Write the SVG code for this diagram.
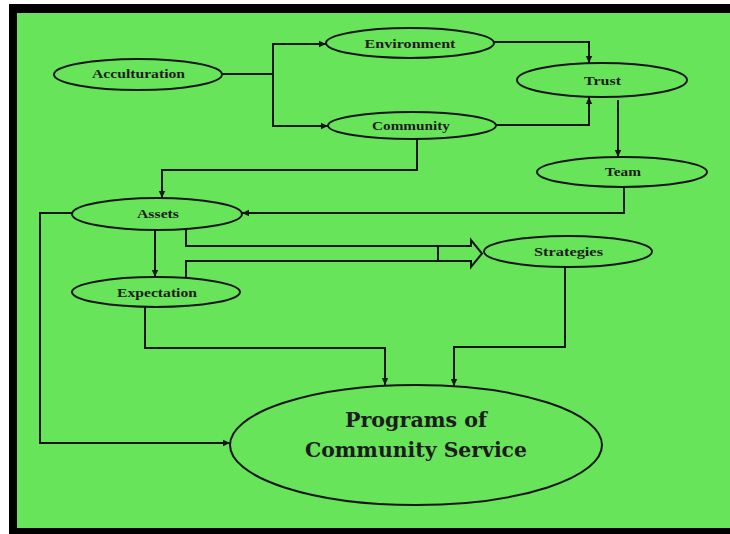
<svg xmlns="http://www.w3.org/2000/svg" width="730" height="534" viewBox="0 0 730 534">
<defs>
<style>
.node ellipse{fill:#67E45A;stroke:#161616;stroke-width:2}
.lbl{font-family:"Liberation Serif","DejaVu Serif",serif;font-weight:bold;font-size:12px;fill:#1c1c1c;text-anchor:middle}
.big{font-family:"DejaVu Serif","Liberation Serif",serif;font-weight:bold;font-size:21px;fill:#1c1c1c;text-anchor:middle}
.conn path{fill:none;stroke:#161616;stroke-width:2}
</style>
<marker id="ah" markerUnits="userSpaceOnUse" markerWidth="8" markerHeight="8" viewBox="0 0 8 8" refX="7" refY="4" orient="auto">
<path d="M0,0.8 L7,4 L0,7.2 Z" fill="#161616"/>
</marker>
</defs>
<rect x="0" y="0" width="730" height="534" fill="#ffffff"/>
<rect x="9" y="4" width="721" height="530" fill="#000000"/>
<rect x="17" y="13" width="713" height="515" fill="#67E45A"/>

<g id="connectors" class="conn">
<path d="M222,74 H273"/>
<path d="M273,74 V44 H326" marker-end="url(#ah)"/>
<path d="M273,74 V126 H328" marker-end="url(#ah)"/>
<path d="M494,42 H589 V63" marker-end="url(#ah)"/>
<path d="M496,125 H589 V97" marker-end="url(#ah)"/>
<path d="M618,100 V157" marker-end="url(#ah)"/>
<path d="M417,138 V170 H162 V198" marker-end="url(#ah)"/>
<path d="M624,187 V213 H242" marker-end="url(#ah)"/>
<path d="M155,230 V277" marker-end="url(#ah)"/>
<path d="M72,213 H40 V443 H230" marker-end="url(#ah)"/>
<path d="M145,307 V348 H385 V385" marker-end="url(#ah)"/>
<path d="M565,267 V347 H454 V386" marker-end="url(#ah)"/>
<path d="M186,229 V246 H471 V240 L482,253.5 L471,267 V261 H186 V277"/>
<path d="M438,246 V261"/>
</g>

<g id="acculturation" class="node"><ellipse cx="138" cy="74.5" rx="84" ry="15.5"/><text class="lbl" x="138.5" y="78" textLength="93" lengthAdjust="spacingAndGlyphs">Acculturation</text></g>
<g id="environment" class="node"><ellipse cx="410" cy="43" rx="84" ry="15"/><text class="lbl" x="410" y="48" textLength="91" lengthAdjust="spacingAndGlyphs">Environment</text></g>
<g id="community" class="node"><ellipse cx="412" cy="125.5" rx="84" ry="13.5"/><text class="lbl" x="411" y="130" textLength="78" lengthAdjust="spacingAndGlyphs">Community</text></g>
<g id="trust" class="node"><ellipse cx="602" cy="80" rx="85" ry="17"/><text class="lbl" x="602.5" y="85" textLength="37" lengthAdjust="spacingAndGlyphs">Trust</text></g>
<g id="team" class="node"><ellipse cx="622" cy="172" rx="85" ry="15"/><text class="lbl" x="623" y="176" textLength="36" lengthAdjust="spacingAndGlyphs">Team</text></g>
<g id="assets" class="node"><ellipse cx="157" cy="214" rx="85" ry="16"/><text class="lbl" x="158" y="218" textLength="42" lengthAdjust="spacingAndGlyphs">Assets</text></g>
<g id="expectation" class="node"><ellipse cx="156" cy="292" rx="84" ry="15"/><text class="lbl" x="157" y="297" textLength="80" lengthAdjust="spacingAndGlyphs">Expectation</text></g>
<g id="strategies" class="node"><ellipse cx="568" cy="251.5" rx="84" ry="15.5"/><text class="lbl" x="568.5" y="256" textLength="69" lengthAdjust="spacingAndGlyphs">Strategies</text></g>
<g id="programs" class="node"><ellipse cx="416" cy="445" rx="186" ry="60"/>
<text class="big" x="416" y="427" textLength="142" lengthAdjust="spacingAndGlyphs">Programs of</text>
<text class="big" x="416" y="457" textLength="222" lengthAdjust="spacingAndGlyphs">Community Service</text></g>
</svg>
